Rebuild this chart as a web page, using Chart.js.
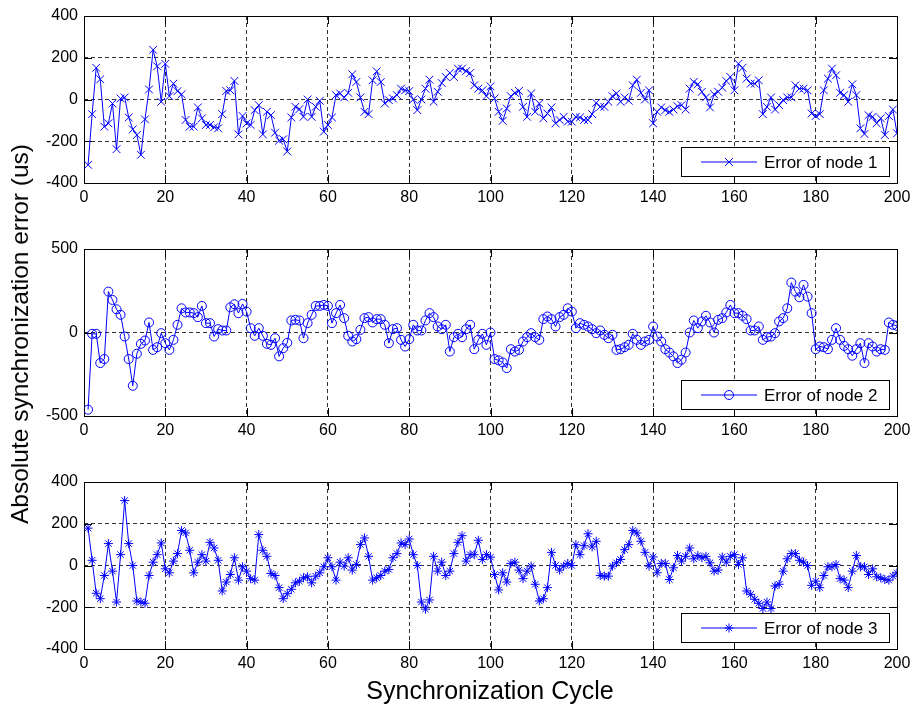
<!DOCTYPE html>
<html><head><meta charset="utf-8">
<script src="https://cdn.jsdelivr.net/npm/chart.js@4.4.0/dist/chart.umd.min.js"></script>
<style>
html,body{margin:0;padding:0;background:#fff;}
#wrap{position:relative;width:917px;height:711px;background:#fff;overflow:hidden;font-family:"Liberation Sans",Arial,sans-serif;color:#000;}
canvas{position:absolute;left:0;}
#ylab{position:absolute;left:20px;top:334px;transform:translate(-50%,-50%) rotate(-90deg);white-space:nowrap;font-size:24.5px;}
#xlab{position:absolute;left:490px;top:690px;transform:translate(-50%,-50%);white-space:nowrap;font-size:25px;}
</style></head><body>
<div id="wrap">
<canvas id="c1" width="917" height="210" style="top:0px"></canvas>
<canvas id="c2" width="917" height="210" style="top:233px"></canvas>
<canvas id="c3" width="917" height="210" style="top:466px"></canvas>
<div id="ylab">Absolute synchronization error (us)</div>
<div id="xlab">Synchronization Cycle</div>
</div>
<script>
// ---- data ----
const cycles = Array.from({length:200}, (_, i) => i + 1);
const xTicks = [0,20,40,60,80,100,120,140,160,180,200];
const yTicks1 = [-400,-200,0,200,400];
const yTicks2 = [-500,0,500];
const yTicks3 = [-400,-200,0,200,400];
const legendLabels = ["Error of node 1","Error of node 2","Error of node 3"];

const node1 = [
-313,-70,152,97,-130,-114,-19,-238,5,10,
-86,-143,-170,-265,-95,48,238,159,-11,171,
16,76,40,25,-98,-130,-130,-38,-90,-122,
-122,-133,-138,-70,41,44,89,-167,-79,-114,
-122,-51,-27,-167,-59,-75,-159,-197,-190,-249,
-86,-35,-46,-83,0,-83,-35,-6,-154,-122,
-86,21,29,10,32,121,84,10,-59,-70,
92,135,84,-19,-3,5,21,52,44,40,
0,-51,0,52,95,-11,37,79,108,127,
108,148,148,136,127,68,52,44,16,63,
5,-59,-102,-43,16,32,41,-35,-83,29,
-59,-19,-90,-67,-38,-114,-98,-83,-106,-106,
-83,-86,-98,-98,-70,-16,-35,-35,-11,16,
29,-11,10,-6,68,95,32,0,44,-114,
-59,-38,-51,-59,-48,-32,-27,-48,52,84,
73,37,10,-38,25,37,57,89,108,44,
171,152,100,76,76,92,-70,-35,10,-48,
-27,-3,10,10,68,52,52,44,-67,-79,
-70,44,100,148,116,32,21,-11,73,21,
-138,-165,-75,-83,-114,-90,-170,-79,-48,-162
];
const node2 = [
-462,-8,-8,-183,-159,245,195,139,106,-24,
-159,-319,-127,-68,-48,60,-104,-88,-4,-64,
-104,-44,46,145,120,120,116,92,159,56,
56,-24,20,12,12,151,169,116,171,125,
26,-20,26,-20,-68,-74,-34,-143,-94,-62,
72,76,72,-34,56,106,159,159,165,159,
56,116,165,86,-20,-54,-40,16,86,92,
60,80,80,46,-64,20,26,-44,-84,-40,
46,12,12,72,116,92,36,20,46,-114,
-28,-8,-28,20,46,-100,-44,-8,-74,0,
-159,-167,-179,-213,-100,-114,-104,-54,-28,-4,
-28,-44,80,96,80,36,92,106,145,125,
26,56,46,36,20,-4,12,-14,-34,-14,
-104,-100,-88,-74,-8,-44,-74,-54,-44,36,
-24,-54,-100,-120,-143,-183,-163,-120,0,72,
26,66,100,60,0,76,86,120,165,116,
116,100,80,12,12,36,-44,-28,-24,-4,
66,86,145,299,245,211,285,215,116,-100,
-84,-88,-100,-44,26,-44,-80,-100,-139,-100,
-64,-183,-64,-84,-114,-100,-104,60,46,40
];
const node3 = [
179,25,-133,-159,-48,105,-27,-175,52,311,
105,0,-170,-175,-181,-48,16,52,108,-16,
-35,21,57,168,156,73,-35,16,52,21,
111,84,25,-122,-79,-43,37,-70,-6,-27,
-63,-70,148,73,44,-38,-48,-106,-159,-135,
-114,-83,-75,-59,-54,-83,-51,-35,-6,37,
-6,-70,16,-3,37,-22,5,100,132,44,
-70,-59,-48,-27,-19,37,57,108,100,127,
52,0,-175,-209,-165,44,-27,16,-48,-27,
57,111,143,21,52,52,121,29,52,40,
-43,-117,-35,-79,10,16,-22,-63,-27,-3,
-90,-170,-159,-106,63,0,-22,-3,10,0,
100,52,95,152,89,116,-48,-51,-51,-3,
13,29,76,100,168,156,116,63,-3,41,
-35,10,10,-67,-11,48,21,44,84,32,
48,37,44,13,-27,-22,41,16,44,52,
5,37,-122,-138,-162,-181,-206,-175,-206,-98,
-90,-27,32,57,57,25,16,0,-95,-75,
-106,-48,-6,-6,5,-63,-70,-106,-27,48,
-6,-6,-43,-16,-54,-59,-67,-70,-51,-35
];

// ---- rendering ----
const FONT = '"Liberation Sans", Arial, sans-serif';
const BLUE = '#0000ff';

const boxPlugin = {
  id: 'matBox',
  beforeDatasetsDraw(chart) {
    const {ctx, chartArea: a, scales: {x, y}} = chart;
    ctx.save();
    ctx.strokeStyle = '#000'; ctx.lineWidth = 1; ctx.setLineDash([]);
    const L = 8;
    ctx.beginPath();
    x.ticks.forEach(t => {
      const px = Math.round(x.getPixelForValue(t.value)) + 0.5;
      ctx.moveTo(px, a.bottom); ctx.lineTo(px, a.bottom - L);
      ctx.moveTo(px, a.top); ctx.lineTo(px, a.top + L);
    });
    y.ticks.forEach(t => {
      const py = Math.round(y.getPixelForValue(t.value)) + 0.5;
      ctx.moveTo(a.left, py); ctx.lineTo(a.left + L, py);
      ctx.moveTo(a.right, py); ctx.lineTo(a.right - L, py);
    });
    ctx.stroke();
    ctx.strokeRect(Math.round(a.left) + 0.5, Math.round(a.top) + 0.5,
                   Math.round(a.right - a.left), Math.round(a.bottom - a.top));
    ctx.restore();
  },
  afterDatasetsDraw(chart, args, opts) {
    const {ctx, chartArea: a} = chart;
    const ds = chart.data.datasets[0];
    ctx.save();
    const bx = 681.5, bw = 208, bh = 29;
    const by = Math.round(a.bottom - 36.5) + 0.5;
    ctx.fillStyle = '#fff';
    ctx.fillRect(bx, by, bw, bh);
    ctx.strokeStyle = '#000'; ctx.lineWidth = 1; ctx.setLineDash([]);
    ctx.strokeRect(bx, by, bw, bh);
    const cy = by + bh / 2;
    ctx.strokeStyle = BLUE;
    ctx.beginPath(); ctx.moveTo(701, cy); ctx.lineTo(757, cy); ctx.stroke();
    ctx.fillStyle = 'rgba(0,0,0,0)';
    Chart.helpers.drawPoint(ctx, {pointStyle: ds.pointStyle, radius: ds.pointRadius, rotation: 0, borderWidth: 1}, 729, cy);
    ctx.fillStyle = '#000';
    ctx.font = '17px ' + FONT;
    ctx.textBaseline = 'middle';
    ctx.textAlign = 'left';
    ctx.fillText(opts.text, 764, cy + 1);
    ctx.restore();
  }
};

function makeChart(id, values, yTicks, style, radius, label) {
  const yMin = yTicks[0], yMax = yTicks[yTicks.length - 1];
  new Chart(document.getElementById(id), {
    type: 'line',
    data: {
      datasets: [{
        label: label,
        data: values.map((v, i) => ({x: cycles[i], y: v})),
        borderColor: BLUE, borderWidth: 1,
        pointStyle: style, pointRadius: radius,
        pointBorderColor: BLUE, pointBorderWidth: 1,
        pointBackgroundColor: 'rgba(0,0,0,0)',
        tension: 0, fill: false
      }]
    },
    options: {
      responsive: false, animation: false, devicePixelRatio: 1,
      layout: {padding: {top: 16, right: 20, bottom: 0, left: 0}},
      plugins: {legend: {display: false}, tooltip: {enabled: false}, matBox: {text: label}},
      scales: {
        x: {
          type: 'linear', min: xTicks[0], max: xTicks[xTicks.length - 1],
          afterBuildTicks(s) { s.ticks = xTicks.map(v => ({value: v})); },
          ticks: {color: '#000', font: {family: FONT, size: 16}, padding: 5, maxRotation: 0, autoSkip: false},
          grid: {color: 'rgba(0,0,0,0.8)', lineWidth: 1, drawTicks: false},
          border: {display: false, dash: [4, 3]},
          afterFit(s) { s.height = 27; }
        },
        y: {
          type: 'linear', min: yMin, max: yMax,
          afterBuildTicks(s) { s.ticks = yTicks.map(v => ({value: v})); },
          ticks: {color: '#000', font: {family: FONT, size: 16}, padding: 6, autoSkip: false},
          grid: {color: 'rgba(0,0,0,0.8)', lineWidth: 1, drawTicks: false},
          border: {display: false, dash: [4, 3]},
          afterFit(s) { s.width = 84; }
        }
      }
    },
    plugins: [boxPlugin]
  });
}

makeChart('c1', node1, yTicks1, 'crossRot', 5.5, legendLabels[0]);
makeChart('c2', node2, yTicks2, 'circle', 4.5, legendLabels[1]);
makeChart('c3', node3, yTicks3, 'star', 4.5, legendLabels[2]);
</script>
</body></html>
